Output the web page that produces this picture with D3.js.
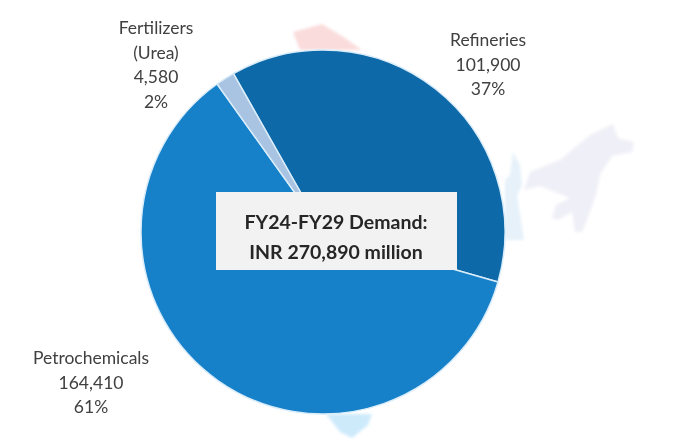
<!DOCTYPE html>
<html><head><meta charset="utf-8">
<script src="https://cdn.jsdelivr.net/npm/d3@7"></script>
<style>html,body{margin:0;padding:0;background:#fff}svg{display:block}text{font-family:Lato,"Open Sans",sans-serif}</style>
</head><body><svg id="c" width="677" height="441"></svg>
<script>
const categories = ["Refineries","Petrochemicals","Fertilizers (Urea)"];
const values = [101900,164410,4580];
const percents = ["37%","61%","2%"];
const sliceColors = ["#0f69a8","#1780c9","#a9c3e2"];
const labelLines = [["Refineries"],["Petrochemicals"],["Fertilizers","(Urea)"]];
const centerLines = ["FY24-FY29 Demand:","INR 270,890 million"];
// faint map backdrop outlines
const mapNorth = [[293,32],[322,24],[345,38],[362,50],[300,50]];
const mapEast = [[530,172],[560,160],[590,135],[613,124],[618,138],[634,142],[632,152],[612,156],[600,175],[596,195],[590,212],[582,232],[575,232],[572,212],[558,220],[552,218],[556,205],[570,198],[540,186],[524,190]];
const mapEastLeft = [[510,175],[513,152],[520,165],[522,185],[517,195],[524,240],[505,240],[505,180]];
const mapSouth = [[326,414],[372,414],[368,425],[352,438],[340,432]];

const svg = d3.select("#c");
const defs = svg.append("defs");
defs.append("filter").attr("id","soft").append("feGaussianBlur").attr("stdDeviation",0.55);
defs.append("filter").attr("id","softer").append("feGaussianBlur").attr("stdDeviation",1.5);
const line = d3.line();
const cx=323, cy=232, r=182;
const back = svg.append("g").attr("filter","url(#softer)");
back.append("path").attr("d",line(mapNorth)+"Z").attr("fill","#fbdcdc");
back.append("path").attr("d",line(mapEast)+"Z").attr("fill","#efeff7");
back.append("path").attr("d",line(mapEastLeft)+"Z").attr("fill","#e6f1f9");
back.append("path").attr("d",line(mapSouth)+"Z").attr("fill","#cdeafb");

const main = svg.append("g").attr("filter","url(#soft)");
const start = -29.5*Math.PI/180;
const pie = d3.pie().sort(null).startAngle(start).endAngle(start+2*Math.PI);
const arc = d3.arc().innerRadius(0).outerRadius(r);
const g = main.append("g").attr("transform",`translate(${cx},${cy})`);
g.selectAll("path").data(pie(values)).join("path").attr("d",arc)
  .attr("fill",(d,i)=>sliceColors[i]).attr("stroke","#d8ecfa").attr("stroke-width",1.5);

const fmt = d3.format(",");
const labelPos = [[488,40],[91,358],[156,28]];
labelLines.forEach((ls,i)=>{
  const all = [...ls, fmt(values[i]), percents[i]];
  const t = main.append("text").attr("text-anchor","middle").attr("font-size",17.5).attr("fill","#404040");
  all.forEach((s,j)=>t.append("tspan").attr("x",labelPos[i][0]).attr("y",labelPos[i][1]+6+j*24.5).text(s));
});
const box = main.append("g");
box.append("rect").attr("x",216).attr("y",192).attr("width",241).attr("height",78).attr("fill","#f2f2f2");
centerLines.forEach((s,i)=>box.append("text").attr("x",336).attr("y",229+i*30)
  .attr("text-anchor","middle").attr("font-size",19.5).attr("font-weight",700).attr("fill","#262626").text(s));
</script></body></html>
